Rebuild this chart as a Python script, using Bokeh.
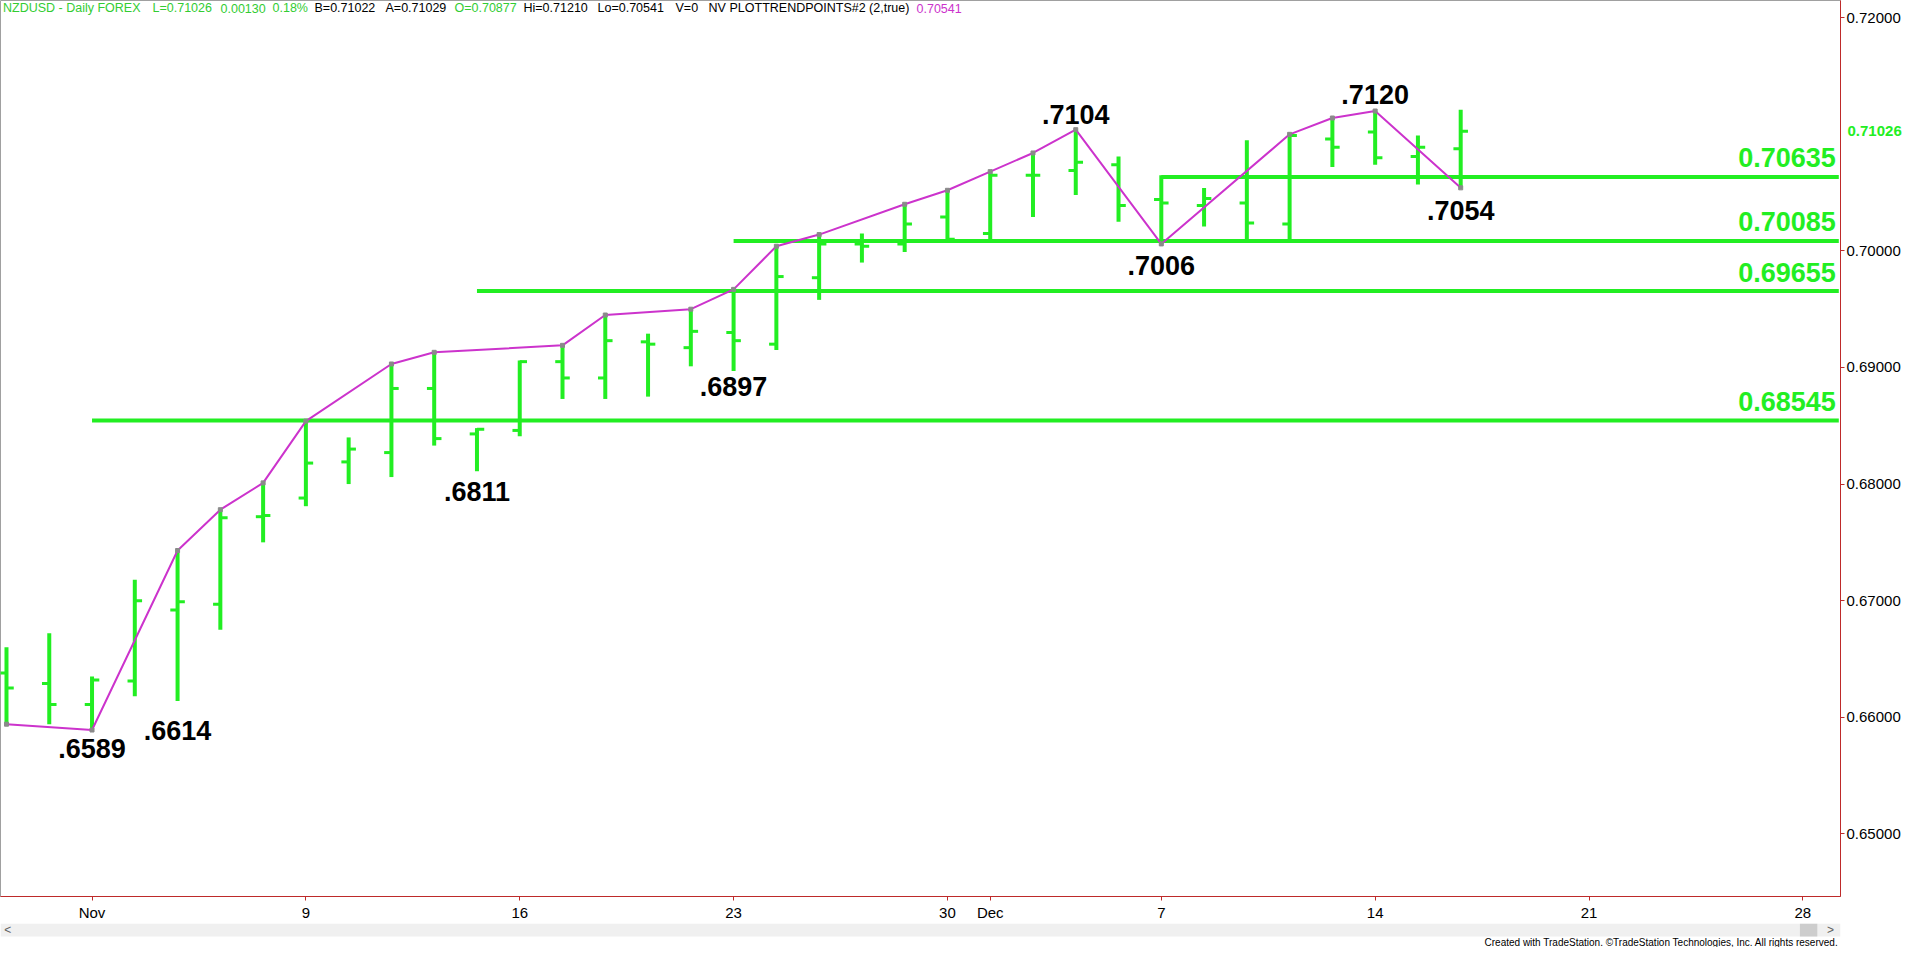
from bokeh.plotting import figure
from bokeh.models import Range1d, FixedTicker, Label, ColumnDataSource, PrintfTickFormatter, LinearAxis
from bokeh.layouts import column
from bokeh.embed import file_html
from bokeh.resources import INLINE
from bokeh.core.properties import value

# ---------------- data ----------------
dates = ["Oct 29", "Oct 30", "Nov 2", "Nov 3", "Nov 4", "Nov 5", "Nov 6",
         "Nov 9", "Nov 10", "Nov 11", "Nov 12", "Nov 13",
         "Nov 16", "Nov 17", "Nov 18", "Nov 19", "Nov 20",
         "Nov 23", "Nov 24", "Nov 25", "Nov 26", "Nov 27",
         "Nov 30", "Dec 1", "Dec 2", "Dec 3", "Dec 4",
         "Dec 7", "Dec 8", "Dec 9", "Dec 10", "Dec 11",
         "Dec 14", "Dec 15", "Dec 16"]
opens = [0.6638, 0.6629, 0.6611, 0.6631, 0.6692, 0.6697, 0.6772,
         0.6788, 0.6819, 0.6827, 0.6882, 0.6843,
         0.6846, 0.6905, 0.6891, 0.6922, 0.6917,
         0.6930, 0.6920, 0.6977, 0.7006, 0.7006,
         0.7029, 0.7015, 0.7065, 0.7069, 0.7074,
         0.7044, 0.7039, 0.7041, 0.7023, 0.7096,
         0.7102, 0.7081, 0.70877]
highs = [0.6660, 0.6672, 0.6635, 0.6718, 0.6743, 0.6778, 0.6801,
         0.6854, 0.6840, 0.6903, 0.6913, 0.6848,
         0.6906, 0.6919, 0.6945, 0.6929, 0.6950,
         0.6967, 0.7004, 0.7014, 0.7015, 0.7040,
         0.7052, 0.7068, 0.7084, 0.7104, 0.7081,
         0.7065, 0.7054, 0.7095, 0.7100, 0.7114,
         0.7120, 0.7099, 0.71210]
lows = [0.6594, 0.6594, 0.6589, 0.6618, 0.6614, 0.6675, 0.6750,
        0.6781, 0.6800, 0.6806, 0.6833, 0.6811,
        0.6841, 0.6873, 0.6873, 0.6875, 0.6901,
        0.6897, 0.6915, 0.6958, 0.6990, 0.6999,
        0.7010, 0.7010, 0.7029, 0.7048, 0.7025,
        0.7006, 0.7021, 0.7009, 0.7009, 0.7072,
        0.7074, 0.7057, 0.70541]
closes = [0.6625, 0.6611, 0.6632, 0.6700, 0.6699, 0.6771, 0.6773,
          0.6818, 0.6830, 0.6882, 0.6839, 0.6847,
          0.6905, 0.6891, 0.6923, 0.6920, 0.6931,
          0.6923, 0.6978, 0.7006, 0.7004, 0.7023,
          0.7010, 0.7065, 0.7065, 0.7076, 0.7039,
          0.7041, 0.7045, 0.7024, 0.7099, 0.7089,
          0.7080, 0.7089, 0.71026]

# trend-point (zig-zag) vertices: bar index and whether the high or low is used
pivot_idx = [0, 2, 4, 5, 6, 7, 9, 10, 13, 14, 16, 17, 18, 19, 21, 22, 23, 24, 25, 27, 30, 31, 32, 34]
pivot_kind = ["L", "L"] + ["H"] * 17 + ["L", "H", "H", "H", "L"]

# labelled swing points
label_idx = [2, 4, 11, 17, 25, 27, 32, 34]
label_kind = ["L", "L", "L", "L", "H", "L", "H", "L"]

# retracement levels and the bar where each starts
level_values = [0.68545, 0.69655, 0.70085, 0.70635]
level_start = [2, 11, 17, 27]

# axis ticks
x_tick_idx = [2, 7, 12, 17, 22, 23, 27, 32, 37, 42]
x_tick_labels = ["Nov", "9", "16", "23", "30", "Dec", "7", "14", "21", "28"]
y_ticks = [0.65, 0.66, 0.67, 0.68, 0.69, 0.70, 0.72]

header_words = ["NZDUSD - Daily  FOREX", "L=0.71026", "0.00130", "0.18%",
                "B=0.71022", "A=0.71029", "O=0.70877", "Hi=0.71210", "Lo=0.70541",
                "V=0", "NV", "PLOTTRENDPOINTS#2 (2,true)", "0.70541"]

# ---------------- style ----------------
GREEN = "#22EE22"
HGREEN = "#33CC33"
MAGENTA = "#CC33CC"
AXIS_RED = "#BE2A2A"
FONT = value("Liberation Sans")
W, H_MAIN, H_BAR = 1904, 923, 24
FRAME_W, FRAME_H = 1844, 899
Y0, Y1 = 0.64462, 0.72148
TICK = 0.17
LEVEL_END = 42.84
label_offsets = [18, 30, 20, 16, -15, 22, -17, 23]
header_x = [2.5, 152, 220, 272, 314, 385, 454, 523, 597, 675, 708, 729, 916]
header_colors = [HGREEN, HGREEN, HGREEN, HGREEN, "black", "black", HGREEN,
                 "black", "black", "black", "black", "black", MAGENTA]

x = list(range(len(dates)))

p = figure(width=W, height=H_MAIN, output_backend="svg", toolbar_location=None,
           x_range=Range1d(-0.14, 42.88), y_range=Range1d(Y0, Y1),
           y_axis_location="right", min_border_left=0, min_border_top=0,
           min_border_right=W - FRAME_W, min_border_bottom=H_MAIN - FRAME_H)
p.background_fill_color = "white"
p.border_fill_color = "white"
p.outline_line_color = "#A0A0A0"
p.xgrid.visible = False
p.ygrid.visible = False

for ax in (p.xaxis[0], p.yaxis[0]):
    ax.axis_line_color = AXIS_RED
    ax.major_tick_line_color = AXIS_RED
    ax.minor_tick_line_color = None
    ax.major_tick_in = 0
    ax.major_label_text_color = "black"
    ax.major_label_text_font = "Liberation Sans"

p.xaxis.ticker = FixedTicker(ticks=x_tick_idx)
p.xaxis.major_label_overrides = {t: l for t, l in zip(x_tick_idx, x_tick_labels)}
p.xaxis.major_tick_out = 4
p.xaxis.major_label_standoff = 3
p.xaxis.major_label_text_font_size = "15px"

p.yaxis.ticker = FixedTicker(ticks=y_ticks)
p.yaxis.formatter = PrintfTickFormatter(format="%.5f")
p.yaxis.major_tick_out = 4
p.yaxis.major_label_standoff = 2
p.yaxis.major_label_text_font_size = "15px"

# last price shown on the price scale (second, overlapping right axis)
last_axis = LinearAxis(ticker=FixedTicker(ticks=[closes[-1]]),
                       formatter=PrintfTickFormatter(format="%.5f"),
                       axis_line_color=None, major_tick_line_color=None,
                       minor_tick_line_color=None, major_tick_in=0, major_tick_out=0,
                       major_label_standoff=-56, major_label_text_color=GREEN,
                       major_label_text_font="Liberation Sans",
                       major_label_text_font_style="bold",
                       major_label_text_font_size="15px")
try:
    if "major_label_background_fill_color" in LinearAxis.properties():
        last_axis.major_label_background_fill_color = GREEN
        last_axis.major_label_text_color = "white"
        last_axis.major_label_text_font_style = "normal"
except Exception:
    pass
p.add_layout(last_axis, "right")

bars = ColumnDataSource(dict(
    x=x, xo=[i - TICK for i in x], xc=[i + TICK for i in x],
    open=opens, high=highs, low=lows, close=closes))
p.segment(x0="x", y0="low", x1="x", y1="high", source=bars, line_color=GREEN, line_width=4)
p.segment(x0="xo", y0="open", x1="x", y1="open", source=bars, line_color=GREEN, line_width=3)
p.segment(x0="x", y0="close", x1="xc", y1="close", source=bars, line_color=GREEN, line_width=3)

# retracement levels
p.segment(x0=level_start, y0=level_values, x1=[LEVEL_END] * len(level_values), y1=level_values,
          line_color=GREEN, line_width=4)
p.text(x=[LEVEL_END] * len(level_values), y=level_values,
       text=["%.5f" % v for v in level_values], text_font=FONT, text_font_style="bold",
       text_font_size="27px", text_color=GREEN, text_align="right", text_baseline="middle",
       x_offset=-3, y_offset=-19)

# zig-zag trend points
pivot_y = [highs[i] if k == "H" else lows[i] for i, k in zip(pivot_idx, pivot_kind)]
p.line(pivot_idx, pivot_y, line_color=MAGENTA, line_width=2)
p.scatter(pivot_idx, pivot_y, marker="square", size=4, color="#8A8A8A")

label_y = [highs[i] if k == "H" else lows[i] for i, k in zip(label_idx, label_kind)]
lab_src = ColumnDataSource(dict(x=label_idx, y=label_y,
                                t=[("%.4f" % v)[1:] for v in label_y], off=label_offsets))
p.text(x="x", y="y", text="t", y_offset="off", source=lab_src, text_font=FONT,
       text_font_style="bold", text_font_size="27px", text_color="black",
       text_align="center", text_baseline="middle")

# header line
for word, hx, hc in zip(header_words, header_x, header_colors):
    p.add_layout(Label(x=hx, y=FRAME_H - 10.5, x_units="screen", y_units="screen", text=word,
                       text_font="Liberation Sans", text_font_size="12.5px", text_color=hc,
                       text_baseline="middle", text_align="left"))

# scrollbar strip and credit line
p2 = figure(width=W, height=H_BAR, output_backend="svg", toolbar_location=None,
            x_range=Range1d(0, W), y_range=Range1d(0, H_BAR),
            min_border=0, min_border_left=0, min_border_right=0, min_border_top=0, min_border_bottom=0)
p2.axis.visible = False
p2.xgrid.visible = False
p2.ygrid.visible = False
p2.outline_line_color = None
p2.quad(left=[0], right=[W], bottom=[11], top=[24], fill_color="#F0F0F0", line_color=None)
p2.quad(left=[1862], right=[1880], bottom=[11], top=[24], fill_color="#CDCDCD", line_color=None)
p2.text(x=[4, 1890], y=[17.5, 17.5], text=["<", ">"], text_font=FONT, text_font_size="12px",
        text_color="#606060", text_baseline="middle")
p2.text(x=[W - 2], y=[5], text=["Created with TradeStation. \u00a9TradeStation Technologies, Inc. All rights reserved."],
        text_font=FONT, text_font_size="10px", text_color="black", text_align="right",
        text_baseline="middle")

layout = column(p, p2, spacing=0)
open("out.html", "w").write(file_html(layout, INLINE))
